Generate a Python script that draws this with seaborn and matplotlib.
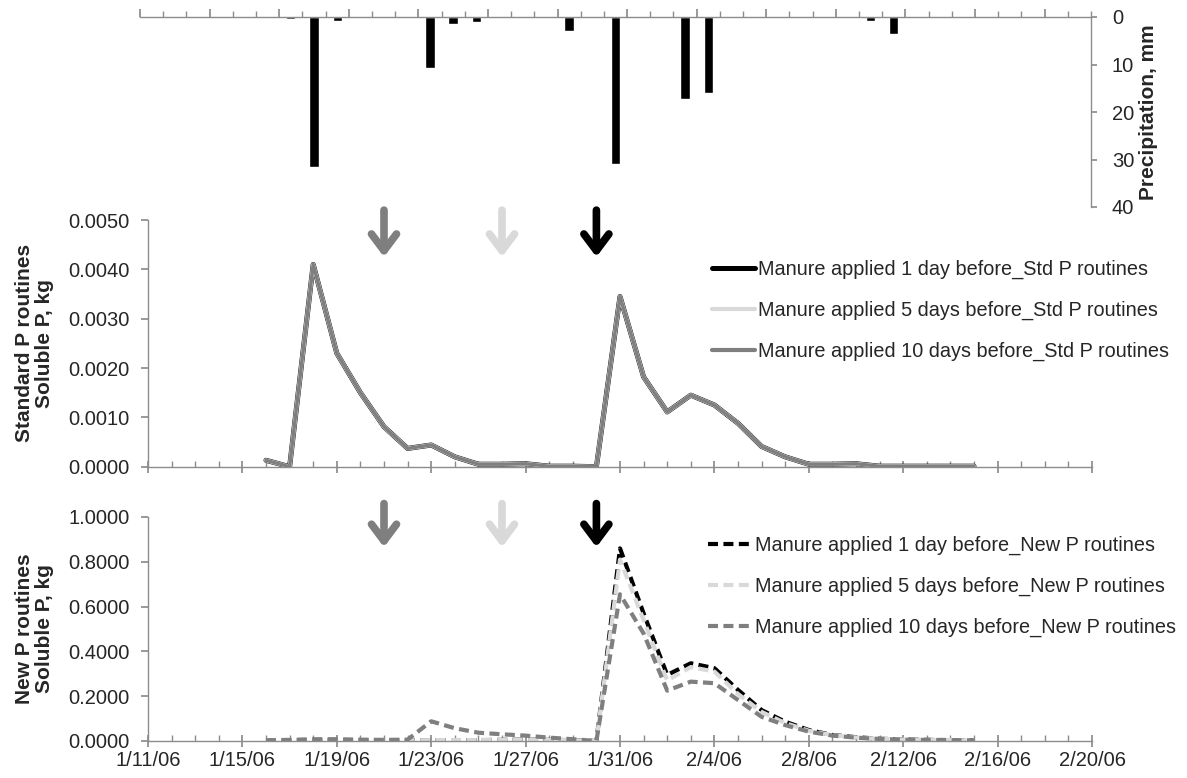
import numpy as np
import pandas as pd
import matplotlib
matplotlib.use("Agg")
import matplotlib.pyplot as plt
import matplotlib.dates as mdates
from matplotlib.ticker import FixedLocator, FuncFormatter, MultipleLocator, NullFormatter
import seaborn as sns

sns.set_theme(style="white")
plt.rcParams["font.family"] = ["Liberation Sans", "DejaVu Sans"]

# ---------------- data ----------------
axis_start = "2006-01-11"
axis_end = "2006-02-20"

precip_dates = ["2006-01-17", "2006-01-18", "2006-01-19", "2006-01-23", "2006-01-24",
                "2006-01-25", "2006-01-29", "2006-01-30", "2006-01-31", "2006-02-03",
                "2006-02-04", "2006-02-09", "2006-02-11", "2006-02-12", "2006-02-13"]
precip_mm = [0.5, 31.5, 0.9, 10.7, 1.5, 1.1, 3.0, 0.2, 30.9, 17.2, 15.9, 0.3, 0.85, 3.5, 0.2]

flow_start = "2006-01-16"   # daily values 1/16/06 ... 2/15/06
std_1day = [0.00013, 0.0, 0.0041, 0.0023, 0.0015, 0.00081, 0.00037, 0.00044, 0.00020, 0.00005,
            0.00005, 0.00006, 0.00001, 0.00001, 0.0, 0.00345, 0.00182, 0.00111, 0.00145, 0.00125,
            0.00088, 0.00041, 0.00020, 0.00005, 0.00005, 0.00006, 0.00001, 0.00001, 0.00001,
            0.00001, 0.00001]
std_5day = list(std_1day)
std_10day = list(std_1day)

new_1day = [0.002, 0.003, 0.004, 0.004, 0.003, 0.003, 0.003, 0.004, 0.004, 0.004,
            0.005, 0.006, 0.005, 0.004, 0.0, 0.86, 0.57, 0.295, 0.347, 0.325,
            0.228, 0.138, 0.086, 0.049, 0.027, 0.017, 0.010, 0.007, 0.005, 0.004, 0.003]
new_5day = [0.002, 0.003, 0.004, 0.004, 0.003, 0.003, 0.003, 0.004, 0.004, 0.004,
            0.005, 0.006, 0.005, 0.004, 0.0, 0.81, 0.54, 0.27, 0.33, 0.31,
            0.21, 0.13, 0.08, 0.046, 0.026, 0.016, 0.010, 0.007, 0.005, 0.004, 0.003]
new_10day = [0.003, 0.005, 0.008, 0.008, 0.006, 0.005, 0.006, 0.088, 0.057, 0.037,
             0.030, 0.024, 0.015, 0.008, 0.0, 0.655, 0.48, 0.225, 0.265, 0.258,
             0.183, 0.108, 0.071, 0.042, 0.024, 0.015, 0.009, 0.006, 0.005, 0.004, 0.003]

std_labels = ["Manure applied 1 day before_Std P routines",
              "Manure applied 5 days before_Std P routines",
              "Manure applied 10 days before_Std P routines"]
new_labels = ["Manure applied 1 day before_New P routines",
              "Manure applied 5 days before_New P routines",
              "Manure applied 10 days before_New P routines"]
series_colors = ["#000000", "#d9d9d9", "#7f7f7f"]

arrow_dates = ["2006-01-21", "2006-01-26", "2006-01-30"]
arrow_colors = ["#7f7f7f", "#d9d9d9", "#000000"]

# ---------------- frames ----------------
all_days = pd.date_range(axis_start, axis_end, freq="D")
flow_days = pd.date_range(flow_start, periods=len(std_1day), freq="D")

rain = pd.Series(precip_mm, index=pd.to_datetime(precip_dates)).reindex(all_days, fill_value=0.0)
df_rain = pd.DataFrame({"day": [f"{d.month}/{d.day}/{d:%y}" for d in all_days], "mm": rain.values})

df_std = pd.DataFrame({"date": flow_days, std_labels[0]: std_1day,
                       std_labels[1]: std_5day, std_labels[2]: std_10day})
df_new = pd.DataFrame({"date": flow_days, new_labels[0]: new_1day,
                       new_labels[1]: new_5day, new_labels[2]: new_10day})

# ---------------- figure ----------------
W, H = 1187, 778
fig = plt.figure(figsize=(W / 100, H / 100), dpi=100)

def rect(x0, x1, ytop, ybot):
    return [x0 / W, 1 - ybot / H, (x1 - x0) / W, (ybot - ytop) / H]

ax_p = fig.add_axes(rect(140, 1091, 17, 207))
ax_s = fig.add_axes(rect(148, 1092, 220, 466.7))
ax_n = fig.add_axes(rect(148, 1092, 517, 741))

AX_COL = "#8c8c8c"
TICK_FS = 14.5
LAB_FS = 15
LEG_FS = 14.3

# ---- precipitation panel ----
sns.barplot(data=df_rain, x="day", y="mm", color="black", saturation=1, width=0.4,
            errorbar=None, ax=ax_p)
ax_p.set_xlim(-0.5, len(all_days) - 0.5)
ax_p.set_ylim(40, 0)
for s in ["left", "bottom"]:
    ax_p.spines[s].set_visible(False)
for s in ["top", "right"]:
    ax_p.spines[s].set_color(AX_COL)
    ax_p.spines[s].set_linewidth(1)
ax_p.xaxis.tick_top()
ax_p.yaxis.tick_right()
ax_p.xaxis.set_major_locator(FixedLocator(np.arange(-0.5, len(all_days), 3)))
ax_p.xaxis.set_minor_locator(FixedLocator(np.arange(-0.5, len(all_days), 1)))
ax_p.xaxis.set_major_formatter(NullFormatter())
ax_p.set_xlabel("")
ax_p.tick_params(axis="x", which="major", direction="out", length=6, color=AX_COL, top=True, bottom=False)
ax_p.tick_params(axis="x", which="minor", direction="out", length=4, color=AX_COL, top=True, bottom=False)
ax_p.set_yticks([0, 10, 20, 30, 40])
ax_p.tick_params(axis="y", direction="out", length=4, color=AX_COL, labelsize=TICK_FS, pad=11,
                 right=True, left=False, labelright=True, labelleft=False)
ax_p.yaxis.set_label_position("right")
ax_p.set_ylabel("Precipitation, mm", fontsize=LAB_FS, fontweight="bold")
ax_p.yaxis.set_label_coords(1.05, 0.5)
ax_p.patch.set_alpha(0)

# ---- helper for time-series panels ----
x0 = mdates.date2num(pd.Timestamp(axis_start))
x1 = mdates.date2num(pd.Timestamp(axis_end))
major_days = mdates.date2num(pd.date_range(axis_start, axis_end, freq="4D"))
minor_days = mdates.date2num(all_days)

def date_fmt(v, pos):
    d = mdates.num2date(v)
    return f"{d.month}/{d.day}/{d:%y}"

def style_ts(ax, ymax, ystep, ylabel, show_xlabels):
    ax.set_xlim(x0, x1)
    ax.set_ylim(0, ymax)
    ax.xaxis.set_major_locator(FixedLocator(major_days))
    ax.xaxis.set_minor_locator(FixedLocator(minor_days))
    if show_xlabels:
        ax.xaxis.set_major_formatter(FuncFormatter(date_fmt))
    else:
        ax.xaxis.set_major_formatter(NullFormatter())
    ax.yaxis.set_major_locator(MultipleLocator(ystep))
    ax.yaxis.set_major_formatter(FuncFormatter(lambda v, p: f"{v:.4f}"))
    for s in ["top", "right"]:
        ax.spines[s].set_visible(False)
    for s in ["left", "bottom"]:
        ax.spines[s].set_color(AX_COL)
        ax.spines[s].set_linewidth(1)
    ax.tick_params(axis="x", which="major", direction="inout", length=9, color=AX_COL,
                   labelsize=TICK_FS, pad=3, bottom=True)
    ax.tick_params(axis="x", which="minor", direction="in", length=4, color=AX_COL, bottom=True)
    ax.tick_params(axis="y", direction="out", length=5, color=AX_COL, labelsize=TICK_FS, pad=8, left=True)
    ax.set_xlabel("")
    ax.set_ylabel(ylabel, fontsize=LAB_FS, fontweight="bold", linespacing=1.05)
    ax.yaxis.set_label_coords(-0.100, 0.5)
    ax.patch.set_alpha(0)

# ---- standard P panel ----
std_lw = [3.6, 3.0, 2.4]
for lab, col, lw in zip(std_labels, series_colors, std_lw):
    sns.lineplot(data=df_std, x="date", y=lab, color=col, linewidth=lw, label=lab, ax=ax_s,
                 solid_capstyle="round", solid_joinstyle="round")
style_ts(ax_s, 0.005, 0.001, "Standard P routines\nSoluble P, kg", False)
leg = ax_s.legend(loc="upper left", bbox_to_anchor=(0.597, 0.84), frameon=False, fontsize=LEG_FS,
                  handlelength=2.2, handletextpad=0.15, labelspacing=1.1, borderpad=0, borderaxespad=0)
for h, lw in zip(leg.get_lines(), [3.6, 3.0, 3.0]):
    h.set_linewidth(lw)

# ---- new P panel ----
for lab, col in zip(new_labels, series_colors):
    sns.lineplot(data=df_new, x="date", y=lab, color=col, linewidth=3.0, label=lab, ax=ax_n,
                 linestyle=(0, (2.4, 1.3)))
style_ts(ax_n, 1.0, 0.2, "New P routines\nSoluble P, kg", True)
ax_n.legend(loc="upper left", bbox_to_anchor=(0.593, 0.915), frameon=False, fontsize=LEG_FS,
            handlelength=2.2, handletextpad=0.2, labelspacing=1.1, borderpad=0, borderaxespad=0)

# ---- arrows marking manure application ----
for ax, tail, tip in [(ax_s, 1.04, 0.85), (ax_n, 1.06, 0.865)]:
    for d, c in zip(arrow_dates, arrow_colors):
        xd = mdates.date2num(pd.Timestamp(d))
        ax.annotate("", xy=(xd, tip), xycoords=("data", "axes fraction"),
                    xytext=(xd, tail), textcoords=("data", "axes fraction"),
                    arrowprops=dict(arrowstyle="->,head_length=0.6,head_width=0.45",
                                    mutation_scale=20, lw=5.5, color=c,
                                    shrinkA=0, shrinkB=0),
                    annotation_clip=False)

fig.savefig("out.png", dpi=100)
